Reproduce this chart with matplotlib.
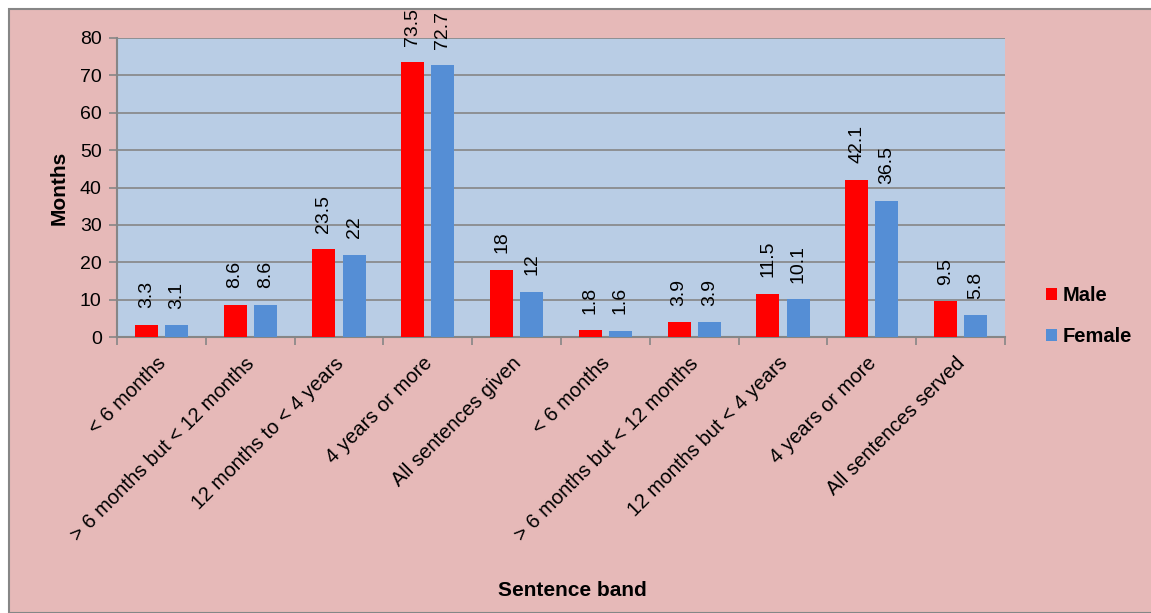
import matplotlib
matplotlib.use("Agg")
import matplotlib.pyplot as plt
from matplotlib.patches import Rectangle
import matplotlib.transforms as mtransforms
import numpy as np

categories = ["< 6 months", "> 6 months but < 12 months", "12 months to < 4 years",
              "4 years or more", "All sentences given", "< 6 months",
              "> 6 months but < 12 months", "12 months but < 4 years",
              "4 years or more", "All sentences served"]
male = [3.3, 8.6, 23.5, 73.5, 18, 1.8, 3.9, 11.5, 42.1, 9.5]
female = [3.1, 8.6, 22, 72.7, 12, 1.6, 3.9, 10.1, 36.5, 5.8]
male_labels = ["3.3", "8.6", "23.5", "73.5", "18", "1.8", "3.9", "11.5", "42.1", "9.5"]
female_labels = ["3.1", "8.6", "22", "72.7", "12", "1.6", "3.9", "10.1", "36.5", "5.8"]

plt.rcParams['font.family'] = ['Liberation Sans', 'DejaVu Sans']

W, H = 1151, 613
fig = plt.figure(figsize=(W/100, H/100), dpi=100)
fig.patch.set_facecolor("white")

# chart area background
bg = Rectangle((9/W, 0), 1 - 9/W + 0.01, 1 - 9/H, transform=fig.transFigure,
               facecolor="#E6B9B8", edgecolor="#868686", linewidth=1.5, zorder=-10)
fig.patches.append(bg)

left, right, top, bottom = 117, 1005, 38, 337
ax = fig.add_axes([left/W, 1 - bottom/H, (right-left)/W, (bottom-top)/H])
ax.set_facecolor("#B9CDE5")

x = np.arange(len(categories))
bw = 0.26
off = 0.17
bm = ax.bar(x - off, male, bw, color="#FF0000", label="Male", zorder=3)
bf = ax.bar(x + off, female, bw, color="#558ED5", label="Female", zorder=3)

for bars, labs in ((bm, male_labels), (bf, female_labels)):
    for rect, lab in zip(bars, labs):
        ax.annotate(lab, (rect.get_x() + rect.get_width()/2, rect.get_height()),
                    xytext=(0, 12), textcoords="offset points", rotation=90,
                    ha="center", va="bottom", fontsize=14, annotation_clip=False)

ax.set_xlim(-0.5, len(categories) - 0.5)
ax.set_ylim(0, 80)
ax.set_yticks(np.arange(0, 81, 10))
ax.yaxis.grid(True, color="#868686", linewidth=1.2, zorder=0)
ax.set_axisbelow(True)
ax.tick_params(axis="y", labelsize=14, length=6, width=1.2, color="#868686", pad=5)

# x ticks at category boundaries, labels centered
ax.set_xticks(np.arange(-0.5, len(categories), 1.0))
ax.set_xticklabels([])
ax.set_xticks(x, minor=True)
ax.set_xticklabels(categories, minor=True, rotation=45, ha="right",
                   rotation_mode="anchor", fontsize=14.5)
ax.tick_params(axis="x", which="major", length=6, width=1.2, color="#868686")
ax.tick_params(axis="x", which="minor", length=0, pad=12)
shift = mtransforms.ScaledTranslation(-5/100, 0, fig.dpi_scale_trans)
for lbl in ax.get_xticklabels(minor=True):
    lbl.set_transform(lbl.get_transform() + shift)

for s in ["top", "right"]:
    ax.spines[s].set_visible(False)
for s in ["left", "bottom"]:
    ax.spines[s].set_color("#868686")
    ax.spines[s].set_linewidth(1.5)

ax.set_ylabel("Months", fontsize=15, fontweight="bold", labelpad=8)
fig.text(572/W, 1 - 591/H, "Sentence band", fontsize=15, fontweight="bold",
         ha="center", va="center")

leg = fig.legend(handles=[bm, bf], labels=["Male", "Female"],
                 loc="center left", bbox_to_anchor=(1028/W, 1 - 316/H),
                 frameon=False, prop={"size": 14.5, "weight": "bold"},
                 handlelength=0.55, handleheight=0.55, handletextpad=0.25,
                 labelspacing=1.1)

fig.savefig("out.png", dpi=100, facecolor=fig.get_facecolor())
